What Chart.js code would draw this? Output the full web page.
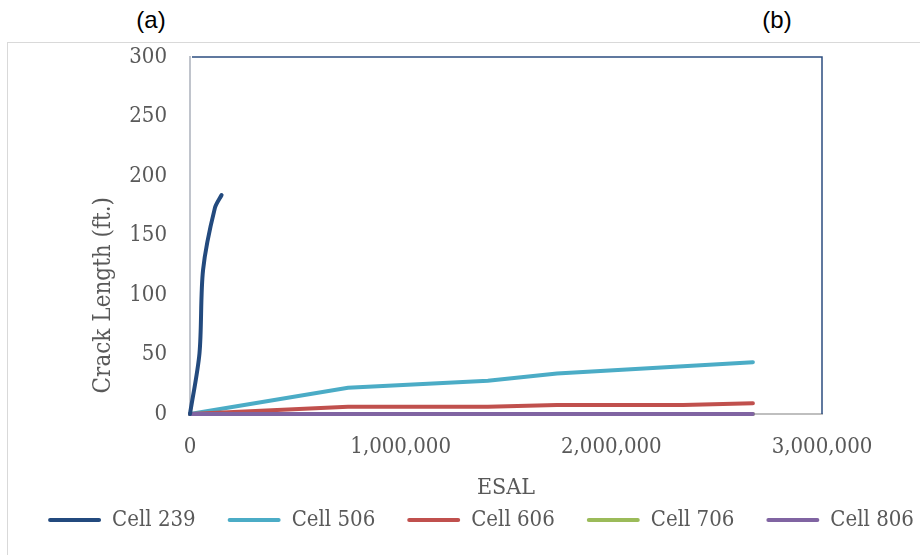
<!DOCTYPE html>
<html>
<head>
<meta charset="utf-8">
<title>Crack length vs ESAL</title>
<script src="https://cdn.jsdelivr.net/npm/chart.js@4.4.1/dist/chart.umd.min.js"></script>
<style>
  html, body { margin: 0; padding: 0; background: #fff; overflow: hidden; }
  #wrap { position: relative; width: 920px; height: 555px; overflow: hidden; }
  #frame { position: absolute; left: 7px; top: 42px; width: 1000px; height: 600px; border: 1.5px solid #d9d9d9; }
  .tag { position: absolute; top: 6px; font: 24px 'Liberation Sans', Arial, sans-serif; color: #000; transform: translateX(-50%); }
  #chartBox { position: absolute; left: 0; top: 0; }
</style>
</head>
<body>
<div id="wrap">
  <div id="frame"></div>
  <div class="tag" style="left:151px">(a)</div>
  <div class="tag" style="left:777px">(b)</div>
  <div id="chartBox"><canvas id="crackChart" width="962" height="541"></canvas></div>
</div>
<script>
// values
const seriesNames = ["Cell 239", "Cell 506", "Cell 606", "Cell 706", "Cell 806"];
const seriesColors = ["#234a7e", "#4bacc6", "#c0504d", "#9bbb59", "#8064a2"];

const esal239 = [0, 45000, 62000, 118000, 150000];
const crack239 = [0, 51, 121, 173, 184];

const esal506 = [0, 750000, 1414000, 1742000, 2672000];
const crack506 = [0, 22, 28, 34, 43.5];

const esal606 = [0, 750000, 1414000, 1742000, 2340000, 2672000];
const crack606 = [0, 6, 6, 7.5, 7.5, 9];

const esal706 = [0, 750000, 1414000, 1742000, 2340000, 2672000];
const crack706 = [0, 0, 0, 0, 0, 0];

const esal806 = [0, 750000, 1414000, 1742000, 2340000, 2672000];
const crack806 = [0, 0, 0, 0, 0, 0];

const xTickValues = [0, 1000000, 2000000, 3000000];
const yTickValues = [0, 50, 100, 150, 200, 250, 300];

const esalSets = [esal239, esal506, esal606, esal706, esal806];
const crackSets = [crack239, crack506, crack606, crack706, crack806];
const drawOrder = [0, 4, 3, 2, 1];

Chart.defaults.font.family = "'DejaVu Serif Condensed', 'DejaVu Serif', serif";
Chart.defaults.color = "#595959";

// blue line on top and right of the plot area
const plotFrame = {
    id: "plotFrame",
    beforeDatasetsDraw(chart) {
        const { ctx, chartArea: a } = chart;
        ctx.save();
        ctx.strokeStyle = "#2c4d80";
        ctx.lineWidth = 1.5;
        ctx.beginPath();
        ctx.moveTo(a.left + 2, a.top);
        ctx.lineTo(a.right, a.top);
        ctx.lineTo(a.right, a.bottom);
        ctx.stroke();
        ctx.restore();
    }
};

function buildChart() {
    const ctx = document.getElementById("crackChart").getContext("2d");

    const datasets = seriesNames.map((name, i) => ({
        label: name,
        data: esalSets[i].map((x, j) => ({ x: x, y: crackSets[i][j] })),
        borderColor: seriesColors[i],
        backgroundColor: seriesColors[i],
        borderWidth: 4,
        borderCapStyle: "round",
        pointRadius: 0,
        clip: 6,
        tension: i === 0 ? 0.3 : 0,
        order: drawOrder[i]
    }));

    window.crackChart = new Chart(ctx, {
        type: "line",
        data: { datasets: datasets },
        options: {
            responsive: false,
            animation: false,
            layout: { padding: { top: 57, left: 0, right: 0, bottom: 0 } },
            scales: {
                x: {
                    type: "linear",
                    min: 0,
                    max: 3000000,
                    afterBuildTicks: s => { s.ticks = xTickValues.map(v => ({ value: v })); },
                    afterFit: s => { s.height = 63; },
                    grid: { display: false, drawTicks: false },
                    border: { display: true, color: "#bfbfbf", width: 2 },
                    ticks: {
                        padding: 20,
                        maxRotation: 0,
                        font: { size: 22 },
                        callback: v => v.toLocaleString("en-US")
                    },
                    title: {
                        display: true,
                        text: "ESAL",
                        font: { size: 23 },
                        padding: { top: 0, bottom: -25 }
                    }
                },
                y: {
                    min: 0,
                    max: 300,
                    afterBuildTicks: s => { s.ticks = yTickValues.map(v => ({ value: v })); },
                    afterFit: s => { s.width = 190; },
                    grid: { display: false, drawTicks: false },
                    border: { display: true, color: "#c0c4cc", width: 2 },
                    ticks: { padding: 23, font: { size: 22 } },
                    title: {
                        display: true,
                        text: "   Crack Length (ft.)",
                        align: "start",
                        font: { size: 24 },
                        padding: { top: 89, bottom: 0 }
                    }
                },
                yRight: {
                    position: "right",
                    display: true,
                    afterFit: s => { s.width = 140; },
                    grid: { display: false },
                    border: { display: false },
                    ticks: { display: false }
                }
            },
            plugins: {
                tooltip: { enabled: false },
                legend: {
                    position: "bottom",
                    labels: {
                        boxWidth: 53,
                        boxHeight: 4,
                        padding: 32,
                        useBorderRadius: true,
                        borderRadius: 2,
                        font: { size: 22 },
                        color: "#595959",
                        sort: (a, b) => a.datasetIndex - b.datasetIndex,
                        generateLabels: chart =>
                            Chart.defaults.plugins.legend.labels.generateLabels(chart)
                                .map(item => ({ ...item, lineWidth: 0, fillStyle: item.strokeStyle }))
                    }
                }
            }
        },
        plugins: [plotFrame]
    });
}

window.onload = function () { buildChart(); };
</script>
</body>
</html>
